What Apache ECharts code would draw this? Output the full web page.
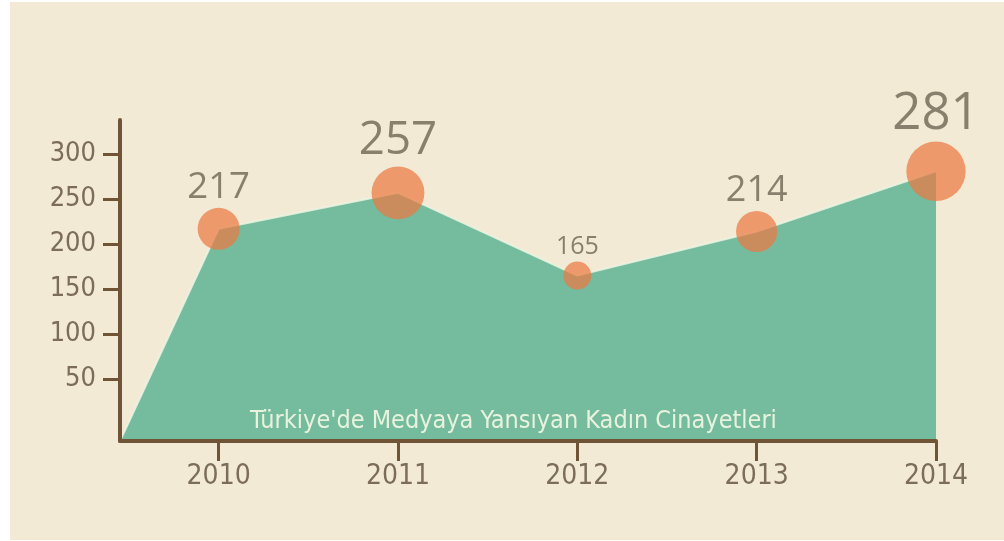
<!DOCTYPE html>
<html>
<head>
<meta charset="utf-8">
<script src="https://cdn.jsdelivr.net/npm/echarts@6/dist/echarts.min.js"></script>
<style>
  html, body { margin: 0; padding: 0; background: #ffffff; width: 1004px; height: 541px; overflow: hidden; }
  #c { position: absolute; left: 10px; top: 2px; width: 994px; height: 538px; background: #f3ead5; }
</style>
</head>
<body>
<div id="c"></div>
<script>
// ---- data ----
const years = [2010, 2011, 2012, 2013, 2014];
const victims = [217, 257, 165, 214, 281];
const yTickValues = [50, 100, 150, 200, 250, 300];
const chartTitle = "Türkiye'de Medyaya Yansıyan Kadın Cinayetleri";

// axis extents
const X_MIN = 2009.45, X_MAX = 2014;
const Y_MIN = -19, Y_MAX = 338;

const NARROW = '"DejaVu Sans Condensed", "Liberation Sans Narrow", "Noto Sans", sans-serif';

const areaData = [[X_MIN, Y_MIN]].concat(years.map((y, i) => [y, victims[i]]));
const vMin = Math.min(...victims);
const sizeOf = v => 28 + (v - vMin) * 0.27;
const fontOf = v => 25 + (v - vMin) * 0.224;
const dotData = years.map((y, i) => ({
  value: [y, victims[i]],
  symbolSize: sizeOf(victims[i]),
  label: { fontSize: fontOf(victims[i]) }
}));

const chart = echarts.init(document.getElementById('c'), null, { renderer: 'canvas' });
chart.setOption({
  animation: false,
  backgroundColor: 'transparent',
  title: {
    text: chartTitle,
    left: 235, top: 402,
    textStyle: { fontFamily: NARROW, fontSize: 25, fontWeight: 'normal', color: '#e8f2de' }
  },
  grid: { left: 110, right: 68, top: 118, bottom: 99 },
  xAxis: {
    type: 'value', min: X_MIN, max: X_MAX, z: 5,
    splitLine: { show: false },
    axisLine: { show: true, onZero: false, lineStyle: { color: '#6f5536', width: 4 } },
    axisTick: { show: true, customValues: years, length: 20, lineStyle: { color: '#6f5536', width: 3 } },
    axisLabel: {
      customValues: years, margin: 22,
      formatter: v => String(Math.round(v)),
      fontFamily: NARROW, fontSize: 28, color: '#7b6d58'
    }
  },
  yAxis: {
    type: 'value', min: Y_MIN, max: Y_MAX, z: 5,
    splitLine: { show: false },
    axisLine: { show: true, onZero: false, lineStyle: { color: '#6f5536', width: 4 } },
    axisTick: { show: true, customValues: yTickValues, length: 17, lineStyle: { color: '#6f5536', width: 3 } },
    axisLabel: {
      customValues: yTickValues, margin: 24,
      fontFamily: NARROW, fontSize: 27, color: '#7b6d58'
    }
  },
  series: [
    {
      type: 'line',
      data: areaData,
      symbol: 'none',
      z: 2,
      lineStyle: { color: 'rgba(236,244,226,0.85)', width: 2 },
      areaStyle: { color: '#74bc9d', opacity: 1, origin: 'start' }
    },
    {
      type: 'scatter',
      data: dotData,
      z: 3,
      itemStyle: { color: 'rgba(236,122,66,0.9)' },
      label: {
        show: true, position: 'top', distance: 2,
        formatter: p => String(p.value[1]),
        fontFamily: '"Open Sans", sans-serif', color: '#6e6452'
      }
    }
  ]
});
</script>
</body>
</html>
